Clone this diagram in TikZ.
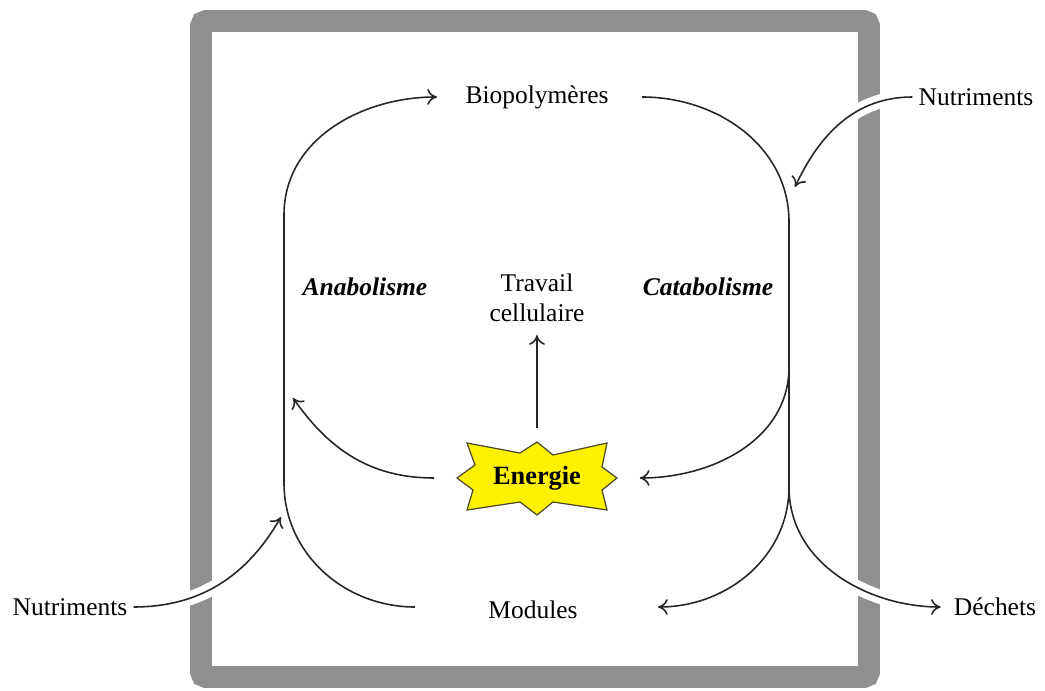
\documentclass[tikz,border=0pt]{standalone}
\usepackage{fontspec}
\setmainfont{Liberation Serif}
\usetikzlibrary{arrows.meta}

\definecolor{framegray}{RGB}{143,143,143}

\begin{document}
\begin{tikzpicture}[x=0.02cm, y=0.02cm,
        flow/.style={line width=0.9pt, black!85, -{To[length=5.5pt, width=9pt]}},
        cross/.style={flow, preaction={draw=white, line width=8pt, -}},
        lbl/.style={font=\fontsize{14.5}{17}\selectfont, align=center}]
    \useasboundingbox (0,0) rectangle (1045,690);

    % cell wall
    \draw[framegray, line width=12.5pt, rounded corners=3pt] (201,13) rectangle (869,669);

    % labels
    \node[lbl] (bio) at (537,593) {Biopolymères};
    \node[lbl] (mod) at (533,80) {Modules};
    \node[lbl] (trav) at (537,392) {Travail\\cellulaire};
    \node[lbl, font=\fontsize{14.5}{17}\selectfont\bfseries\itshape] (ana) at (365,403) {Anabolisme};
    \node[lbl, font=\fontsize{14.5}{17}\selectfont\bfseries\itshape] (cata) at (708,403) {Catabolisme};
    \node[lbl] (nutL) at (70,83) {Nutriments};
    \node[lbl] (nutR) at (976,593) {Nutriments};
    \node[lbl] (dech) at (995,83) {Déchets};

    % energie star
    \draw[shift={(537,212)}, fill=yellow, draw=black!60!olive, line width=0.7pt]
        (-80,0) -- (-62,13) -- (-70,35) -- (-17,25) -- (0,36) -- (16,23) -- (70,35) -- (65,11)
        -- (80,0) -- (65,-12) -- (70,-32) -- (16,-24) -- (0,-37) -- (-17,-24) -- (-70,-32) -- (-64,-12) -- cycle;
    \node[lbl, font=\fontsize{15}{17}\selectfont\bfseries, minimum width=4.1cm, minimum height=2cm] (ener) at (537,212) {Energie};

    % loop ends
    \coordinate (a0) at (415,83);
    \coordinate (a1) at (284,207);
    \coordinate (a2) at (284,475);
    \coordinate (a3) at (437,593);
    \coordinate (c0) at (642,593);
    \coordinate (c1) at (789,468);
    \coordinate (c2) at (789,203);
    \coordinate (c3) at (789,323);
    \coordinate (modR) at (658,83);
    \coordinate (anaIn) at (293,292);
    \coordinate (anaNut) at (281,173);
    \coordinate (cataNut) at (795,503);

    % crossing the wall
    \draw[cross] (nutL.east) to[out=0, in=-120] (anaNut);
    \draw[cross] (nutR.west) to[out=180, in=65] (cataNut);
    \draw[cross, shorten >=4pt] (c2) to[out=-90, in=180] (dech.west);

    % anabolisme and catabolisme
    \draw[flow] (a0) to[out=180, in=-90] (a1) -- (a2) to[out=90, in=180] (a3);
    \draw[line width=0.9pt, black!85] (c0) to[out=0, in=90] (c1) -- (c2);
    \draw[flow] (c2) to[out=-90, in=0] (modR);
    \draw[flow] (c3) to[out=-90, in=0] (ener.east);
    \draw[flow] (ener.west) to[out=180, in=-55] (anaIn);
    \draw[flow, shorten >=4pt] (ener.north) -- (trav.south);
\end{tikzpicture}
\end{document}
